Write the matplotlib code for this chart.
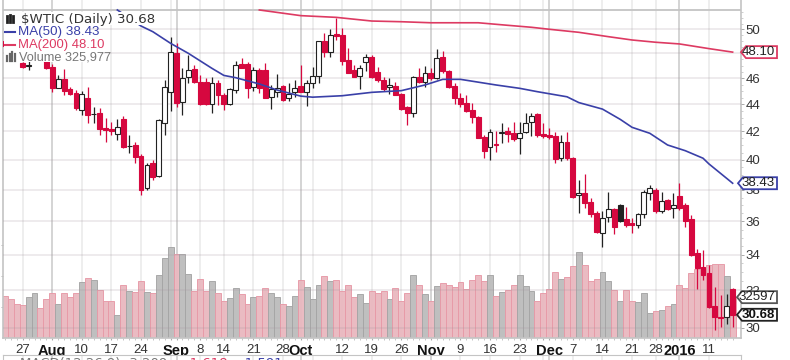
import matplotlib
matplotlib.use('Agg')
import matplotlib.pyplot as plt
from matplotlib.lines import Line2D
from matplotlib.patches import Polygon, Rectangle
from matplotlib.ticker import NullFormatter
from matplotlib.transforms import IdentityTransform

# daily candles (first few sit behind the legend)
opens = [49.0, 48.6, 48.1, 47.19, 46.98, 47.6, 47.9, 47.4, 46.92, 45.26,
         45.94, 45.16, 44.82, 43.56, 44.43, 43.26, 43.31, 42.22, 42.15, 41.79,
         42.87, 40.94, 41.03, 40.27, 38.09, 39.76, 38.93, 42.58, 44.95, 48.05,
         44.17, 46.07, 46.70, 45.73, 45.73, 44.05, 45.65, 44.69, 44.05, 45.08,
         47.11, 47.11, 45.29, 46.65, 46.65, 44.51, 44.95, 45.39, 44.43, 44.90,
         45.39, 44.95, 45.65, 46.18, 49.0, 48.13, 49.61, 49.53, 47.46, 46.65,
         46.20, 47.32, 47.67, 46.52, 45.86, 45.29, 45.39, 44.77, 43.75, 43.36,
         46.07, 45.73, 46.38, 46.04, 47.73, 46.57, 45.39, 44.48, 44.10, 43.56,
         43.07, 41.57, 40.91, 41.12, 41.88, 42.03, 41.86, 41.50, 41.98, 42.70,
         43.26, 41.79, 41.72, 41.67, 40.11, 41.26, 40.11, 37.66, 37.81, 37.23,
         36.50, 35.31, 36.29, 36.75, 37.02, 36.12, 35.88, 35.77, 36.44, 37.81,
         37.98, 36.65, 37.34, 36.81, 37.60, 37.02, 36.14, 34.09, 33.27, 32.93,
         31.12, 30.58, 30.55, 32.06]
highs = [49.6, 49.0, 48.5, 47.3, 47.4, 48.2, 48.2, 47.6, 47.1, 46.25,
         46.7, 45.3, 45.08, 45.03, 45.29, 43.8, 43.68, 42.94, 42.7, 42.87,
         43.12, 41.74, 41.26, 40.4, 39.8, 39.99, 42.87, 45.86, 49.33, 48.83,
         46.78, 47.86, 47.05, 46.25, 46.0, 46.07, 45.86, 44.82, 45.21, 47.40,
         47.59, 47.32, 46.92, 46.78, 47.19, 45.47, 46.33, 45.47, 45.65, 45.86,
         47.05, 45.86, 46.92, 49.05, 49.7, 50.0, 51.0, 50.09, 48.41, 47.05,
         47.05, 47.95, 47.86, 46.92, 46.07, 45.99, 45.73, 44.82, 43.85, 46.18,
         46.78, 46.97, 46.78, 48.33, 48.22, 46.65, 45.60, 44.82, 44.69, 44.10,
         43.12, 41.74, 42.17, 42.05, 42.58, 42.34, 42.70, 42.70, 43.36, 43.36,
         43.31, 42.63, 42.22, 41.98, 41.74, 41.98, 40.22, 38.64, 39.05, 37.44,
         36.67, 36.67, 37.87, 36.81, 37.08, 36.88, 36.18, 36.55, 37.98, 38.31,
         38.09, 37.87, 37.38, 37.77, 38.42, 37.13, 36.39, 34.32, 34.28, 33.41,
         32.19, 31.74, 31.8, 32.1]
lows = [48.3, 47.9, 47.6, 46.85, 46.65, 47.4, 47.4, 46.7, 44.95, 45.21,
        44.69, 44.7, 43.56, 43.19, 42.58, 42.58, 41.74, 41.26, 41.74, 41.38,
        40.8, 40.45, 39.76, 37.66, 37.98, 38.64, 38.86, 41.74, 43.51, 43.80,
        43.19, 45.60, 45.60, 43.93, 43.93, 43.31, 43.93, 43.56, 43.93, 44.82,
        46.78, 44.48, 45.03, 44.82, 44.43, 43.61, 44.56, 44.25, 44.23, 44.56,
        44.95, 43.85, 45.21, 45.65, 47.73, 47.67, 49.11, 47.05, 46.38, 46.07,
        45.16, 46.60, 45.99, 45.73, 45.03, 44.77, 44.69, 43.56, 42.46, 43.02,
        45.60, 45.34, 45.86, 45.91, 46.44, 45.21, 44.05, 43.80, 43.44, 42.58,
        41.50, 40.11, 39.99, 40.57, 41.15, 41.26, 41.33, 40.40, 41.86, 41.67,
        41.62, 41.50, 41.43, 39.76, 39.95, 39.99, 37.49, 36.55, 36.81, 36.29,
        35.31, 34.48, 35.98, 35.23, 35.98, 35.67, 35.31, 35.61, 36.18, 37.34,
        36.55, 36.50, 36.71, 36.18, 36.71, 35.67, 33.93, 32.05, 32.56, 31.03,
        29.9, 30.04, 30.21, 30.03]
closes = [48.6, 48.1, 47.8, 46.92, 47.02, 47.7, 47.5, 46.79, 45.21, 45.91,
          45.03, 44.77, 43.68, 44.77, 43.19, 43.3, 42.15, 42.10, 42.05, 42.34,
          40.91, 40.98, 40.22, 37.98, 39.65, 38.86, 42.82, 45.29, 48.13, 44.10,
          45.99, 46.65, 45.73, 44.05, 44.05, 45.65, 44.69, 44.05, 45.13, 47.05,
          46.84, 45.26, 46.65, 45.21, 44.43, 45.13, 45.26, 44.35, 44.77, 45.26,
          44.95, 45.65, 46.18, 49.0, 48.13, 49.53, 49.44, 47.40, 46.44, 46.12,
          46.84, 47.73, 46.07, 45.86, 45.13, 45.44, 44.69, 43.63, 43.36, 46.12,
          45.73, 46.38, 45.99, 47.65, 46.55, 45.34, 44.43, 44.05, 43.51, 43.02,
          41.55, 40.63, 41.98, 41.06, 41.93, 41.81, 41.43, 41.91, 42.58, 43.12,
          41.74, 41.67, 41.62, 40.03, 41.21, 40.11, 37.55, 37.81, 37.17, 36.46,
          35.33, 36.22, 36.75, 35.67, 36.04, 35.77, 35.77, 36.46, 37.87, 38.09,
          36.65, 37.28, 36.75, 37.02, 36.81, 36.04, 33.99, 33.22, 32.84, 31.08,
          30.55, 30.50, 31.17, 30.68]

# volume in thousands
volumes = [337, 310, 272, 259, 326, 358, 242, 310, 358, 272,
           358, 331, 358, 445, 482, 463, 385, 299, 299, 183,
           423, 374, 366, 453, 366, 358, 509, 644, 730, 674,
           674, 517, 377, 474, 377, 453, 358, 299, 318, 404,
           348, 272, 329, 337, 399, 358, 329, 269, 251, 339,
           463, 407, 310, 426, 501, 453, 463, 374, 426, 329,
           348, 280, 377, 356, 374, 310, 399, 291, 356, 509,
           423, 348, 299, 415, 442, 426, 407, 445, 396, 463,
           509, 453, 509, 337, 366, 385, 423, 509, 415, 377,
           299, 356, 396, 531, 471, 490, 577, 692, 585, 453,
           471, 528, 453, 385, 291, 385, 299, 288, 356, 194,
           213, 221, 253, 269, 423, 404, 520, 550, 550, 587,
           595, 595, 501, 326]

# days that closed above the day before (black candle, gray volume)
up_days = [4, 5, 9, 13, 15, 19, 21, 24, 26, 27, 28, 30, 31, 35, 38, 39, 42, 45, 46,
           48, 49, 51, 52, 53, 55, 60, 61, 65, 69, 71, 73, 82, 84, 87, 88, 89, 94,
           97, 101, 102, 104, 107, 108, 109, 111, 113, 122]

ma50_days = [19, 23, 25, 28, 31, 35, 37, 39, 43, 46, 50, 52, 57, 62, 67, 71, 74, 77,
             83, 87, 90, 95, 97, 101, 104, 106, 109, 112, 115, 118, 119, 122, 123]
ma50_values = [51.7, 50.3, 49.81, 48.83, 48.0, 46.78, 46.22, 46.04, 45.55, 45.08,
               44.61, 44.53, 44.64, 44.9, 45.03, 45.47, 45.91, 45.91, 45.47, 45.21,
               44.95, 44.56, 44.12, 43.63, 42.87, 42.29, 41.86, 41.03, 40.63, 40.11,
               39.72, 38.75, 38.43]
ma200_days = [43, 50, 56, 62, 67, 72, 80, 85, 89, 92, 97, 102, 106, 110, 114, 119, 123]
ma200_values = [51.7, 51.2, 51.05, 50.73, 50.67, 50.58, 50.58, 50.36, 50.19, 50.02,
                49.76, 49.39, 49.11, 48.92, 48.78, 48.39, 48.10]

price_ticks = [30, 32, 34, 36, 38, 40, 42, 44, 46, 48, 50]
hidden_price_labels = [48]  # sits under the 48.10 tag
date_days = [3, 8, 13, 18, 23, 28, 29, 33, 37, 42, 47, 50, 52, 57, 62, 67, 72, 77, 82,
             87, 91, 92, 96, 101, 106, 110, 114, 119]
date_labels = ['27', 'Aug', '10', '17', '24', '', 'Sep', '8', '14', '21', '28', 'Oct',
               '', '12', '19', '26', 'Nov', '9', '16', '23', '', 'Dec', '7', '14', '21',
               '28', '2016', '11']
month_labels = ['Aug', 'Sep', 'Oct', 'Nov', 'Dec', '2016']

RED = '#d6083f'
MA_RED = '#dd3a62'
MA_BLUE = '#3a40a8'
TEXT = '#333333'
W, H = 790, 360
TOP_PRICE = 51.7

plt.rcParams['font.family'] = ['Liberation Sans', 'DejaVu Sans']

fig = plt.figure(figsize=(W / 100, H / 100), dpi=100)
fig.patch.set_facecolor('white')

# volume axes at the back, price axes over it
ax_vol = fig.add_axes([3 / W, (H - 337.5) / H, 737.5 / W, 337.5 / H])
ax_vol.set_xlim(-0.33, 124.33)
ax_vol.set_ylim(0, 2728)
for s in ax_vol.spines.values():
    s.set_color('#c4c4c4')
    s.set_linewidth(1.2)
ax_vol.spines['top'].set_visible(False)

for d, lab in zip(date_days, date_labels):
    is_month = lab in month_labels
    ax_vol.axvline(d, color='#c9c9c9' if is_month else '#e9e9e9', lw=1.1, zorder=0)

days = range(len(closes))
vol_colors = ['#bcbcbc' if d in up_days else '#e9b8bf' for d in days]
vol_edges = ['#a6a6a6' if d in up_days else '#e79aa8' for d in days]
ax_vol.bar(days, volumes, width=1.0, color=vol_colors, edgecolor=vol_edges,
           linewidth=0.7, alpha=0.95, zorder=2)

ax_vol.set_xticks(date_days)
ax_vol.set_xticklabels(date_labels)
for lab in ax_vol.get_xticklabels():
    if lab.get_text() in month_labels:
        lab.set_fontweight('bold')
        lab.set_fontsize(10.5)
        lab.set_color('#111111')
    else:
        lab.set_fontsize(9.5)
        lab.set_color(TEXT)
ax_vol.set_xticks(list(days), minor=True)
ax_vol.tick_params(axis='x', which='major', length=1.5, pad=3, color='#aaaaaa')
ax_vol.tick_params(axis='x', which='minor', length=1.5, color='#bbbbbb', width=0.6)
ax_vol.set_yticks([250, 500, 750])
ax_vol.set_yticklabels([])
ax_vol.tick_params(axis='y', length=1.5, color='#aaaaaa', width=0.6)

ax = ax_vol.twinx()
ax.patch.set_visible(False)
ax.set_yscale('log')
ax.set_ylim(29.51, 52.59)
for s in ax.spines.values():
    s.set_visible(False)

for p in price_ticks:
    ax.axhline(p, color='#a89aa2', alpha=0.25, lw=1.1, zorder=1)
ax.axhline(TOP_PRICE, color='#c4c4c4', lw=1.3, zorder=1)

ax.set_yticks(price_ticks)
ax.set_yticklabels(['' if p in hidden_price_labels else str(p) for p in price_ticks],
                   fontsize=9.5, color=TEXT)
ax.set_yticks([p / 2 for p in range(60, 104)], minor=True)
ax.yaxis.set_minor_formatter(NullFormatter())
ax.tick_params(axis='y', which='major', length=2, pad=1.5, color='#aaaaaa', width=0.7)
ax.tick_params(axis='y', which='minor', length=1.2, color='#bbbbbb', width=0.5)

# candles: hollow when close is above open, colour from the day before
for d, o, h, l, c in zip(days, opens, highs, lows, closes):
    col = '#222222' if d in up_days else RED
    ax.vlines(d, l, h, color=col, lw=0.9, zorder=3)
    bottom, top = min(o, c), max(o, c)
    face = 'white' if c > o else col
    ax.bar(d, top - bottom, bottom=bottom, width=0.82, color=face, edgecolor=col,
           linewidth=0.8, zorder=4)

ax.plot(ma50_days, ma50_values, color=MA_BLUE, lw=1.2, zorder=5)
ax.plot(ma200_days, ma200_values, color=MA_RED, lw=1.2, zorder=5)

ident = IdentityTransform()


def px_text(x, y, s, **kw):
    fig.text(x, H - y, s, transform=ident, va='center', **kw)


def px_line(xs, ys, **kw):
    fig.add_artist(Line2D(xs, [H - y for y in ys], transform=ident, **kw))


def value_tag(y, s, edge, tip_x, weight='normal', text_col='#222222'):
    # pointed tag on the right axis
    pts = [(tip_x, H - y), (tip_x + 5, H - y + 6), (777, H - y + 6), (777, H - y - 6),
           (tip_x + 5, H - y - 6)]
    fig.add_artist(Polygon(pts, closed=True, transform=ident, facecolor='white',
                           edgecolor=edge, linewidth=1.3, zorder=2))
    t = fig.text(775, H - y, s, transform=ident, va='center', ha='right', fontsize=9.5,
                 fontweight=weight, color=text_col)
    t.set_zorder(3)


def price_y(value):
    return H - ax.transData.transform((0, value))[1]


def vol_y(value):
    return H - ax_vol.transData.transform((0, value))[1]


fig.canvas.draw()
value_tag(price_y(ma200_values[-1]), '48.10', MA_RED, 741)
value_tag(price_y(ma50_values[-1]), '38.43', MA_BLUE, 738)
value_tag(vol_y(volumes[-1]), '32597', '#555555', 737)
value_tag(price_y(closes[-1]), '30.68', '#222222', 737, weight='bold', text_col='#111111')

# legend rows, each with its own white backing
for top, bottom, right in [(12, 25, 157), (25, 38, 89), (38, 51, 95), (51, 62, 100)]:
    fig.add_artist(Rectangle((4, H - bottom), right - 4, bottom - top, transform=ident,
                             facecolor='white', edgecolor='none', zorder=1.5))

px_text(21, 19, '$WTIC (Daily) 30.68', fontsize=9.6, color=TEXT, family='DejaVu Sans')
px_text(18, 32, 'MA(50) 38.43', fontsize=9.6, color=MA_BLUE)
px_text(18, 45, 'MA(200) 48.10', fontsize=9.4, color=MA_RED)
px_text(19, 57, 'Volume 325,977', fontsize=9.2, color='#777777')

px_line([5, 15], [32, 32], color=MA_BLUE, lw=1.5, zorder=2)
px_line([5, 15], [45, 45], color=MA_RED, lw=1.5, zorder=2)
for x, top in zip([7, 10, 13], [16, 15, 16]):
    px_line([x, x], [top, 22], color='#222222', lw=2, zorder=2)
for x, top in zip([7, 9.5, 12, 14.5], [56, 54, 52, 54]):
    px_line([x, x], [top, 61], color='#666666', lw=1.6, zorder=2)

# next panel starts right at the bottom edge of the picture
ax_low = fig.add_axes([3 / W, 0, 737.5 / W, 5 / H])
ax_low.set_xlim(-0.33, 124.33)
ax_low.set_ylim(0, 1)
ax_low.set_xticks([])
ax_low.set_yticks([])
ax_low.spines['bottom'].set_visible(False)
for s in ['top', 'left', 'right']:
    ax_low.spines[s].set_color('#c4c4c4')
for d, lab in zip(date_days, date_labels):
    ax_low.axvline(d, color='#c9c9c9' if lab in month_labels else '#e9e9e9', lw=1.1)
px_text(20, 363.5, 'MACD(12,26,9) -3.209,', fontsize=9.5, color='#777777', zorder=4,
        family='DejaVu Sans')
px_text(185, 363.5, '-1.618,', fontsize=9.5, color=MA_RED, zorder=4, family='DejaVu Sans')
px_text(240, 363.5, '-1.591', fontsize=9.5, color=MA_BLUE, zorder=4, family='DejaVu Sans')

fig.savefig('out.png', dpi=100)
